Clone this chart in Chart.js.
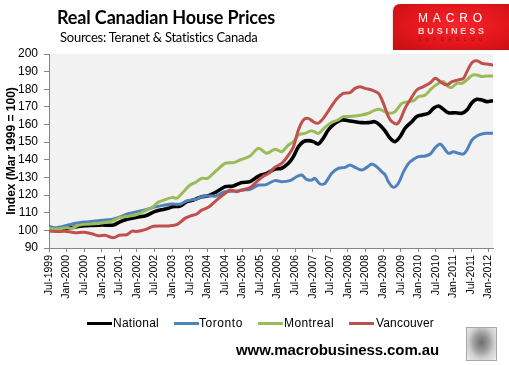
<!DOCTYPE html>
<html><head><meta charset="utf-8">
<script src="https://cdn.jsdelivr.net/npm/chart.js@4"></script>
<style>
html,body{margin:0;padding:0;background:#fff;}
#wrap{position:relative;width:509px;height:365px;overflow:hidden;font-family:"Liberation Sans",Arial,sans-serif;color:#000;}
canvas{position:absolute;left:0;top:0;}
.abs{position:absolute;white-space:nowrap;line-height:1;}
#title{left:57px;top:8px;font-family:Lato,sans-serif;font-weight:bold;font-size:18px;}
#sub{left:60px;top:31px;font-family:Lato,sans-serif;font-size:13px;}
#logo{left:393px;top:4px;width:116px;height:46px;border-top-left-radius:7px;
 background:radial-gradient(ellipse at 55% 45%,#f5262c 0%,#e3161c 55%,#c10e13 100%);box-shadow:-1px 0 2px #ddd;}
#l1{left:25px;top:8px;font-size:12px;color:#fff;letter-spacing:6px;}
#l2{left:25px;top:23px;font-size:9px;font-weight:bold;color:#f9d2d2;letter-spacing:3px;}
#l3{left:25px;top:34px;font-size:4.5px;color:#a80a0e;letter-spacing:5.5px;}
.leg{position:absolute;top:321.5px;height:3px;width:25px;}
.lt{position:absolute;top:316px;font-size:12px;line-height:14px;letter-spacing:0.4px;}
#foot{left:236px;top:342px;font-size:15px;font-weight:bold;}
#wolf{left:466px;top:327px;width:29px;height:32px;border:1px solid #a8a8a8;
 background:radial-gradient(ellipse at 50% 45%,#6e6e6e 0%,#9a9a9a 35%,#d0d0d0 65%,#f0f0f0 100%);}
</style></head>
<body><div id="wrap">
<canvas id="c" width="509" height="365"></canvas>
<div class="abs" id="title">Real Canadian House Prices</div>
<div class="abs" id="sub">Sources: Teranet &amp; Statistics Canada</div>
<div class="abs" id="logo">
  <div class="abs" id="l1">MACRO</div>
  <div class="abs" id="l2">BUSINESS</div>
  <div class="abs" id="l3">SUPERBLOG</div>
</div>
<div class="leg" style="left:87px;background:#000"></div><div class="lt" id="t1" style="left:113px">National</div>
<div class="leg" style="left:174px;background:#4f81bd"></div><div class="lt" id="t2" style="left:199px">Toronto</div>
<div class="leg" style="left:258px;background:#9bbb59"></div><div class="lt" id="t3" style="left:284px">Montreal</div>
<div class="leg" style="left:349px;background:#c0504d"></div><div class="lt" id="t4" style="left:376px">Vancouver</div>
<div class="abs" id="foot">www.macrobusiness.com.au</div>
<div class="abs" id="wolf"></div>
</div>
<script>
// x values = months since Jul-1999
const tickLabels = ["Jul-1999","Jan-2000","Jul-2000","Jan-2001","Jul-2001","Jan-2002","Jul-2002","Jan-2003","Jul-2003","Jan-2004","Jul-2004","Jan-2005","Jul-2005","Jan-2006","Jul-2006","Jan-2007","Jul-2007","Jan-2008","Jul-2008","Jan-2009","Jul-2009","Jan-2010","Jul-2010","Jan-2011","Jul-2011","Jan-2012"];
const seriesNames = ["National","Toronto","Montreal","Vancouver"];
const national = [[0,100.4],[6,101.1],[12,102.6],[18,103],[22,103],[24,104.7],[27,106.4],[30,107.4],[33,108.3],[36,110.6],[39,111.9],[40.7,112.5],[42.1,113.4],[44.7,113.8],[47,116.3],[49.3,117.2],[52.1,119.1],[54.1,119.5],[57.2,121.9],[60.1,124.8],[62.9,125.2],[65.8,127.1],[68.6,127.6],[71.5,130.8],[74.3,132.3],[77.1,134.8],[79.4,135.2],[81.7,138],[83.4,141.8],[85.1,147.4],[86.8,150.3],[88.5,150.9],[90.2,150.3],[91.9,149],[93.6,152.2],[95.3,156.9],[97.6,160.7],[99.9,162.6],[102.1,162.2],[104.4,161.6],[106.7,161.1],[109,161.1],[111.2,161.6],[112.9,159.7],[114.6,156.5],[116.4,152.2],[118.1,150.3],[119.8,153.1],[121.5,157.9],[123.8,161.6],[125.5,164.5],[127.2,165.4],[129.5,166.4],[131.2,169.2],[132.9,170.5],[134.6,168.6],[136.3,166.7],[138.6,166.7],[140.9,166.4],[142.6,168.2],[144.3,172.4],[146,174.3],[147.7,173.9],[149.4,173],[151.5,173.5]];
const toronto = [[0,102.3],[2,101.5],[6,102.8],[9,104],[12,104.7],[15.7,105.3],[18,105.7],[21.4,106.2],[24,107.5],[27,109.4],[30,110.6],[33,111.7],[36,113.2],[39,114.2],[42,115],[44.7,114.8],[47,116.7],[50.4,117.8],[52,119.1],[55,119.5],[57,119.5],[60,121.9],[63.5,122.3],[66.3,122.9],[68.6,123.3],[71.5,125.7],[73.2,125.7],[74.3,126.1],[77.1,128.2],[79.4,127.6],[82.2,128.2],[84.5,130.4],[86.2,131.4],[87.9,128.9],[89.6,128.5],[90.7,129.5],[92.5,126.3],[94.2,126.7],[96.4,132.3],[98.7,135.2],[101,135.7],[102.7,137.1],[104.4,135.7],[106.7,134.2],[108.4,135.7],[110.1,137.6],[111.8,136.1],[113.5,133.3],[114.7,131.5],[115.8,127.6],[117.5,124.4],[119.2,126.7],[121,133.3],[122.7,138],[124.4,140.3],[126.1,141.8],[128.4,142.2],[130.1,143.3],[131.8,146.9],[133.5,149],[134.6,147.1],[136.3,143.7],[138,144.6],[139.7,143.7],[141.4,143.3],[142.6,145.6],[144.3,151.2],[146,153.5],[147.7,154.6],[149.4,155],[151.5,155]];
const montreal = [[0,101],[3.2,100.8],[6,101.5],[7.7,101.1],[10,102.8],[12,103.4],[15.7,103.8],[18,104.2],[21.4,105.1],[22.5,106],[24,107.2],[27,108],[30,109],[32.8,111],[35.6,113.6],[37.3,116],[39,117],[42.1,118.7],[43.6,118.2],[45.9,121.9],[48.1,125.7],[49.8,127],[52.1,129.5],[54.1,129.5],[56.7,133.3],[60.1,138],[62.9,138.4],[65.2,139.9],[68.6,142.2],[71.5,146.5],[74.3,143.7],[77.1,146],[79.4,144.6],[81.7,148.4],[83.4,150.3],[85.1,154.1],[87.3,155],[89.6,156.5],[91.9,155],[94.2,158.4],[96.4,161.1],[98.7,162.6],[100.4,164.5],[102.7,164.5],[104.4,164.8],[106.7,165.4],[109,166.4],[111.2,168.2],[112.9,168.6],[114.6,167.3],[116.4,166.4],[118.1,167.3],[120.4,172],[122.7,173],[124.4,173.5],[126.1,175.8],[128.4,176.8],[130.6,180.5],[132.9,183.4],[134.6,184.3],[136.3,181.5],[137.5,181.1],[139.2,183.4],[140.9,183.4],[142.6,185.3],[144.5,188.1],[146,188.1],[147.7,187.2],[149.4,187.5],[151.5,187.5]];
const vancouver = [[0,99.6],[3.2,99.4],[6,99.4],[8.9,98.7],[12,98.9],[14.6,98.1],[16.8,97],[19.1,97.2],[22,95.8],[24,97.2],[26.5,97.5],[28.4,99.6],[29.9,99.4],[32.8,100.4],[35.6,102.3],[39,102.5],[40.7,102.5],[43.6,103.2],[46.4,106.8],[48.1,108.1],[50.4,109.3],[52.1,111.5],[54.4,113.1],[57.2,117.2],[60.1,121],[61.8,122.9],[64.1,121.9],[65.8,122.9],[68.6,124.2],[70.9,127.6],[73.2,130.8],[74.9,132.3],[77.1,135.8],[79.4,138],[81.7,142.7],[83.4,147.4],[85.1,156.9],[86.8,162.6],[88.5,163.5],[90.2,161.6],[91.7,160.7],[93.6,163.5],[95.9,169.2],[98.1,174.3],[100.4,177.7],[102.7,178.1],[104.4,180.5],[106.1,181.5],[107.8,180.5],[110.1,179.6],[112.4,177.7],[114.1,172],[115.8,164.5],[117,161.6],[118.7,160.3],[119.8,162.6],[121.5,169.2],[123.2,173.9],[125.5,179.6],[127.8,181.5],[130.1,183.7],[131.8,186.2],[133.5,184.3],[135.7,182.4],[137.5,184.3],[139.7,185.3],[141.4,186.2],[142.6,190],[144.3,195.1],[146,196.2],[147.7,194.7],[149.4,194.3],[151.5,193.8]];
const yTicks = [90,100,110,120,130,140,150,160,170,180,190,200];

const colors = ["#000000","#4f81bd","#9bbb59","#c0504d"];
const all = [national,toronto,montreal,vancouver];

// fit some texts to measured widths
function fit(id,w){const el=document.getElementById(id);const cur=el.getBoundingClientRect().width;const n=el.textContent.length;el.style.letterSpacing=(parseFloat(getComputedStyle(el).letterSpacing)||0)+(w-cur)/n+'px';}
fit('title',218);fit('sub',198);fit('foot',203);fit('l1',69);fit('l2',69);fit('l3',69);
fit('t1',46);fit('t2',44);fit('t3',50);fit('t4',58);

Chart.defaults.font.family = '"Liberation Sans", Arial, sans-serif';
const bg = {id:'bg',beforeDraw(ch){const a=ch.chartArea,c=ch.ctx;c.save();c.fillStyle='#f2f2f2';c.fillRect(a.left,a.top,a.right-a.left,a.bottom-a.top);c.restore();}};

new Chart(document.getElementById('c'),{
  type:'line',
  data:{datasets:all.map((s,i)=>({
    label:seriesNames[i], data:s.map(([x,y])=>({x,y})), borderColor:colors[i],
    borderWidth:i===0?3.6:3, order:4-i, fill:false
  }))},
  options:{
    responsive:false, animation:false, devicePixelRatio:1,
    layout:{padding:{left:0,top:54,right:16,bottom:0}},
    plugins:{legend:{display:false},tooltip:{enabled:false}},
    elements:{point:{radius:0},line:{tension:0.3,borderCapStyle:'round',borderJoinStyle:'round'}},
    scales:{
      x:{type:'linear',min:0,max:151.5,
        afterBuildTicks(s){s.ticks=tickLabels.map((l,i)=>({value:i*6}));},
        afterFit(s){s.height=117;},
        grid:{drawOnChartArea:false,drawTicks:true,tickLength:4,color:'#868686'},
        border:{color:'#868686',width:1},
        ticks:{autoSkip:false,maxRotation:90,minRotation:90,padding:3,font:{size:10.5},color:'#000',
          callback:(v,i)=>tickLabels[i]}},
      y:{min:90,max:200,
        afterBuildTicks(s){s.ticks=yTicks.map(v=>({value:v}));},
        afterFit(s){s.width=49;},
        ticks:{padding:6,font:{size:12},color:'#000'},
        grid:{drawOnChartArea:false,drawTicks:true,tickLength:5,color:'#868686'},
        border:{color:'#868686',width:1},
        title:{display:true,text:'Index (Mar 1999 = 100)',font:{size:12,weight:'bold'},color:'#000',padding:{top:4,bottom:0}}}
    }
  },
  plugins:[bg]
});
</script>
</body></html>
